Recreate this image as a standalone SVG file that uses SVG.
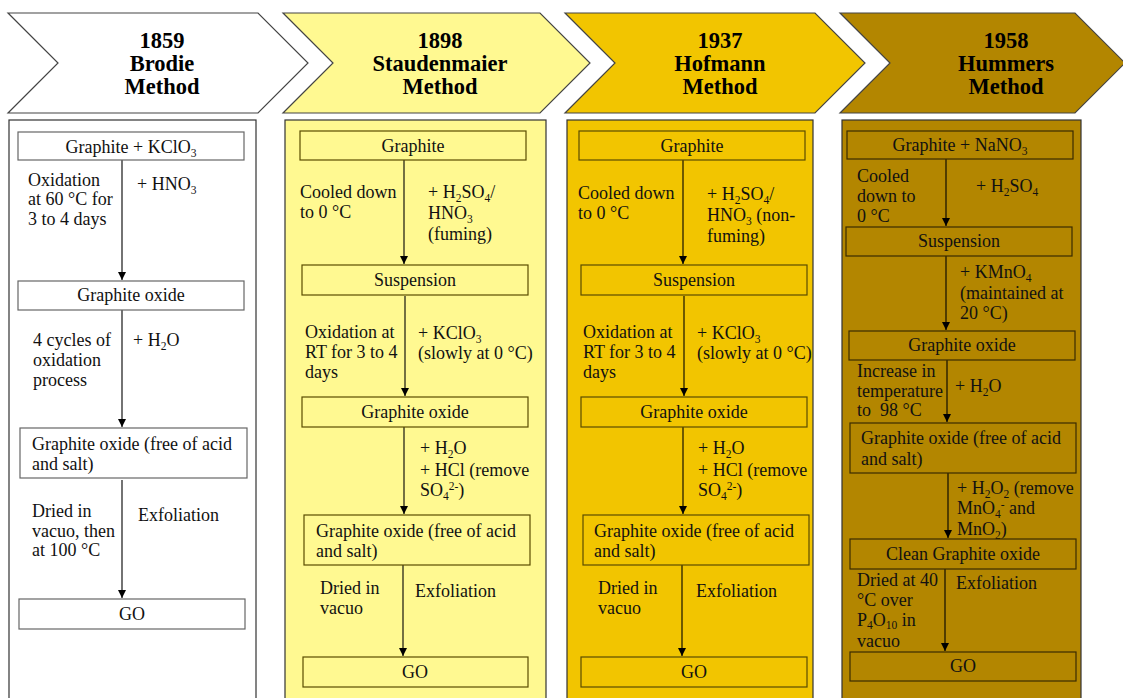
<svg xmlns="http://www.w3.org/2000/svg" width="1123" height="698" viewBox="0 0 1123 698">
<defs>
<marker id="ah" markerWidth="8" markerHeight="8" refX="8" refY="4" orient="auto" markerUnits="userSpaceOnUse"><path d="M0,0 L8,4 L0,8 Z" fill="#000"/></marker>
<style>
.t{font-family:"Liberation Serif","Times New Roman",serif;font-size:18px;fill:#111}
.c{text-anchor:middle}
.h{font-family:"Liberation Serif","Times New Roman",serif;font-size:22.5px;font-weight:bold;fill:#000;text-anchor:middle}
.chev{stroke:#444;stroke-width:1.2}
.col{stroke:#333;stroke-width:1.2}
.n1{fill:#fff;stroke:#666;stroke-width:1.2}
.n2{fill:none;stroke:#5a4c00;stroke-width:1.2}
.n4{fill:none;stroke:#3a2c00;stroke-width:1.2}
.a{stroke:#000;stroke-width:1.1;fill:none;marker-end:url(#ah)}
.s{font-size:11.5px}
</style>
</defs>
<rect width="1123" height="698" fill="#fff"/>

<g id="header1">
<path class="chev" d="M8,13 L258,13 L308,63 L258,113 L8,113 L58,63 Z" fill="#fff"/>
<text class="h" x="162" y="48">1859</text><text class="h" x="162" y="71">Brodie</text><text class="h" x="162" y="94">Method</text>
</g>
<g id="header2">
<path class="chev" d="M283,13 L540,13 L590,63 L540,113 L283,113 L333,63 Z" fill="#FFF991"/>
<text class="h" x="440" y="48">1898</text><text class="h" x="440" y="71">Staudenmaier</text><text class="h" x="440" y="94">Method</text>
</g>
<g id="header3">
<path class="chev" d="M565,13 L815,13 L865,63 L815,113 L565,113 L615,63 Z" fill="#F2C500"/>
<text class="h" x="720" y="48">1937</text><text class="h" x="720" y="71">Hofmann</text><text class="h" x="720" y="94">Method</text>
</g>
<g id="header4">
<path class="chev" d="M840,13 L1075,13 L1125,63 L1075,113 L840,113 L890,63 Z" fill="#B38600"/>
<text class="h" x="1006" y="48">1958</text><text class="h" x="1006" y="71">Hummers</text><text class="h" x="1006" y="94">Method</text>
</g>

<g id="columns">
<rect class="col" x="9" y="120" width="247" height="590" fill="#fff"/>
<rect class="col" x="285" y="120" width="261" height="590" fill="#FFF991"/>
<rect class="col" x="567" y="120" width="246" height="590" fill="#F2C500"/>
<rect class="col" x="842" y="120" width="239" height="590" fill="#B38600"/>
</g>

<g id="connectors">
<line class="a" x1="122" y1="160" x2="122" y2="280"/>
<line class="a" x1="122" y1="310" x2="122" y2="427"/>
<line class="a" x1="122" y1="480" x2="122" y2="598"/>
<line class="a" x1="404" y1="160" x2="404" y2="264"/>
<line class="a" x1="405" y1="296" x2="405" y2="396"/>
<line class="a" x1="404" y1="427" x2="404" y2="514"/>
<line class="a" x1="403" y1="565" x2="403" y2="656"/>
<line class="a" x1="683" y1="160" x2="683" y2="264"/>
<line class="a" x1="684" y1="296" x2="684" y2="396"/>
<line class="a" x1="683" y1="427" x2="683" y2="514"/>
<line class="a" x1="682" y1="565" x2="682" y2="656"/>
<line class="a" x1="946" y1="159" x2="946" y2="226"/>
<line class="a" x1="946" y1="256" x2="946" y2="330"/>
<line class="a" x1="947" y1="360" x2="947" y2="422"/>
<line class="a" x1="948" y1="473" x2="948" y2="538"/>
<line class="a" x1="945" y1="569" x2="945" y2="651"/>
</g>

<g id="c1-graphite-kclo3"><rect class="n1" x="18" y="132" width="226" height="28"/><text class="t c" x="131" y="153">Graphite + KClO<tspan class="s" dy="4">3</tspan></text></g>
<g id="c1-label1"><text class="t" x="28" y="186">Oxidation</text><text class="t" x="28" y="205">at 60 °C for</text><text class="t" x="28" y="225">3 to 4 days</text><text class="t" x="137" y="190">+ HNO<tspan class="s" dy="4">3</tspan></text></g>
<g id="c1-graphite-oxide"><rect class="n1" x="18" y="281" width="226" height="29"/><text class="t c" x="131" y="301">Graphite oxide</text></g>
<g id="c1-label2"><text class="t" x="33" y="346">4 cycles of</text><text class="t" x="33" y="366">oxidation</text><text class="t" x="33" y="386">process</text><text class="t" x="133" y="346">+ H<tspan class="s" dy="4">2</tspan><tspan dy="-4">O</tspan></text></g>
<g id="c1-go-free"><rect class="n1" x="20" y="428" width="227" height="50"/><text class="t" x="32" y="450">Graphite oxide (free of acid</text><text class="t" x="32" y="470">and salt)</text></g>
<g id="c1-label3"><text class="t" x="32" y="517">Dried in</text><text class="t" x="32" y="537">vacuo, then</text><text class="t" x="32" y="556">at 100 °C</text><text class="t" x="138" y="521">Exfoliation</text></g>
<g id="c1-go"><rect class="n1" x="19" y="599" width="226" height="30"/><text class="t c" x="132" y="620">GO</text></g>

<g id="c2-graphite"><rect class="n2" x="300" y="131" width="226" height="29"/><text class="t c" x="413" y="152">Graphite</text></g>
<g id="c2-label1"><text class="t" x="300" y="198">Cooled down</text><text class="t" x="300" y="218">to 0 °C</text><text class="t" x="428" y="198">+ H<tspan class="s" dy="4">2</tspan><tspan dy="-4">SO</tspan><tspan class="s" dy="4">4</tspan><tspan dy="-4">/</tspan></text><text class="t" x="428" y="219">HNO<tspan class="s" dy="4">3</tspan></text><text class="t" x="428" y="240">(fuming)</text></g>
<g id="c2-suspension"><rect class="n2" x="302" y="265" width="226" height="30"/><text class="t c" x="415" y="286">Suspension</text></g>
<g id="c2-label2"><text class="t" x="305" y="338">Oxidation at</text><text class="t" x="305" y="358">RT for 3 to 4</text><text class="t" x="305" y="378">days</text><text class="t" x="418" y="339">+ KClO<tspan class="s" dy="4">3</tspan></text><text class="t" x="418" y="359">(slowly at 0 °C)</text></g>
<g id="c2-graphite-oxide"><rect class="n2" x="302" y="397" width="226" height="30"/><text class="t c" x="415" y="418">Graphite oxide</text></g>
<g id="c2-label3"><text class="t" x="420" y="454">+ H<tspan class="s" dy="4">2</tspan><tspan dy="-4">O</tspan></text><text class="t" x="420" y="476">+ HCl (remove</text><text class="t" x="420" y="496">SO<tspan class="s" dy="4">4</tspan><tspan class="s" dy="-10">2-</tspan><tspan dy="6">)</tspan></text></g>
<g id="c2-go-free"><rect class="n2" x="304" y="515" width="226" height="50"/><text class="t" x="316" y="537">Graphite oxide (free of acid</text><text class="t" x="316" y="557">and salt)</text></g>
<g id="c2-label4"><text class="t" x="320" y="594">Dried in</text><text class="t" x="320" y="614">vacuo</text><text class="t" x="415" y="597">Exfoliation</text></g>
<g id="c2-go"><rect class="n2" x="303" y="657" width="225" height="30"/><text class="t c" x="415" y="678">GO</text></g>

<g id="c3-graphite"><rect class="n2" x="579" y="131" width="226" height="29"/><text class="t c" x="692" y="152">Graphite</text></g>
<g id="c3-label1"><text class="t" x="578" y="199">Cooled down</text><text class="t" x="578" y="219">to 0 °C</text><text class="t" x="707" y="200">+ H<tspan class="s" dy="4">2</tspan><tspan dy="-4">SO</tspan><tspan class="s" dy="4">4</tspan><tspan dy="-4">/</tspan></text><text class="t" x="707" y="221">HNO<tspan class="s" dy="4">3</tspan><tspan dy="-4"> (non-</tspan></text><text class="t" x="707" y="242">fuming)</text></g>
<g id="c3-suspension"><rect class="n2" x="581" y="265" width="226" height="30"/><text class="t c" x="694" y="286">Suspension</text></g>
<g id="c3-label2"><text class="t" x="583" y="338">Oxidation at</text><text class="t" x="583" y="358">RT for 3 to 4</text><text class="t" x="583" y="378">days</text><text class="t" x="697" y="339">+ KClO<tspan class="s" dy="4">3</tspan></text><text class="t" x="697" y="359">(slowly at 0 °C)</text></g>
<g id="c3-graphite-oxide"><rect class="n2" x="581" y="397" width="226" height="30"/><text class="t c" x="694" y="418">Graphite oxide</text></g>
<g id="c3-label3"><text class="t" x="698" y="454">+ H<tspan class="s" dy="4">2</tspan><tspan dy="-4">O</tspan></text><text class="t" x="698" y="476">+ HCl (remove</text><text class="t" x="698" y="496">SO<tspan class="s" dy="4">4</tspan><tspan class="s" dy="-10">2-</tspan><tspan dy="6">)</tspan></text></g>
<g id="c3-go-free"><rect class="n2" x="583" y="515" width="226" height="50"/><text class="t" x="594" y="537">Graphite oxide (free of acid</text><text class="t" x="594" y="557">and salt)</text></g>
<g id="c3-label4"><text class="t" x="598" y="594">Dried in</text><text class="t" x="598" y="614">vacuo</text><text class="t" x="696" y="597">Exfoliation</text></g>
<g id="c3-go"><rect class="n2" x="581" y="657" width="226" height="30"/><text class="t c" x="694" y="678">GO</text></g>

<g id="c4-graphite-nano3"><rect class="n4" x="847" y="131" width="226" height="28"/><text class="t c" x="960" y="151">Graphite + NaNO<tspan class="s" dy="4">3</tspan></text></g>
<g id="c4-label1"><text class="t" x="857" y="182">Cooled</text><text class="t" x="857" y="202">down to</text><text class="t" x="857" y="222">0 °C</text><text class="t" x="976" y="192">+ H<tspan class="s" dy="4">2</tspan><tspan dy="-4">SO</tspan><tspan class="s" dy="4">4</tspan></text></g>
<g id="c4-suspension"><rect class="n4" x="846" y="227" width="226" height="29"/><text class="t c" x="959" y="247">Suspension</text></g>
<g id="c4-label2"><text class="t" x="960" y="278">+ KMnO<tspan class="s" dy="4">4</tspan></text><text class="t" x="960" y="299">(maintained at</text><text class="t" x="960" y="319">20 °C)</text></g>
<g id="c4-graphite-oxide"><rect class="n4" x="849" y="331" width="226" height="29"/><text class="t c" x="962" y="351">Graphite oxide</text></g>
<g id="c4-label3"><text class="t" x="857" y="377">Increase in</text><text class="t" x="857" y="397">temperature</text><text class="t" x="857" y="416" xml:space="preserve">to  98 °C</text><text class="t" x="955" y="392">+ H<tspan class="s" dy="4">2</tspan><tspan dy="-4">O</tspan></text></g>
<g id="c4-go-free"><rect class="n4" x="850" y="423" width="226" height="50"/><text class="t" x="861" y="444">Graphite oxide (free of acid</text><text class="t" x="861" y="465">and salt)</text></g>
<g id="c4-label4"><text class="t" x="957" y="494">+ H<tspan class="s" dy="4">2</tspan><tspan dy="-4">O</tspan><tspan class="s" dy="4">2</tspan><tspan dy="-4"> (remove</tspan></text><text class="t" x="957" y="514">MnO<tspan class="s" dy="4">4</tspan><tspan class="s" dy="-10">-</tspan><tspan dy="6"> and</tspan></text><text class="t" x="957" y="535">MnO<tspan class="s" dy="4">2</tspan><tspan dy="-4">)</tspan></text></g>
<g id="c4-clean"><rect class="n4" x="850" y="539" width="226" height="30"/><text class="t c" x="963" y="560">Clean Graphite oxide</text></g>
<g id="c4-label5"><text class="t" x="857" y="586">Dried at 40</text><text class="t" x="857" y="606">°C over</text><text class="t" x="857" y="626">P<tspan class="s" dy="3">4</tspan><tspan dy="-3">O</tspan><tspan class="s" dy="3">10</tspan><tspan dy="-3"> in</tspan></text><text class="t" x="857" y="647">vacuo</text><text class="t" x="956" y="589">Exfoliation</text></g>
<g id="c4-go"><rect class="n4" x="850" y="652" width="226" height="29"/><text class="t c" x="963" y="672">GO</text></g>
</svg>
